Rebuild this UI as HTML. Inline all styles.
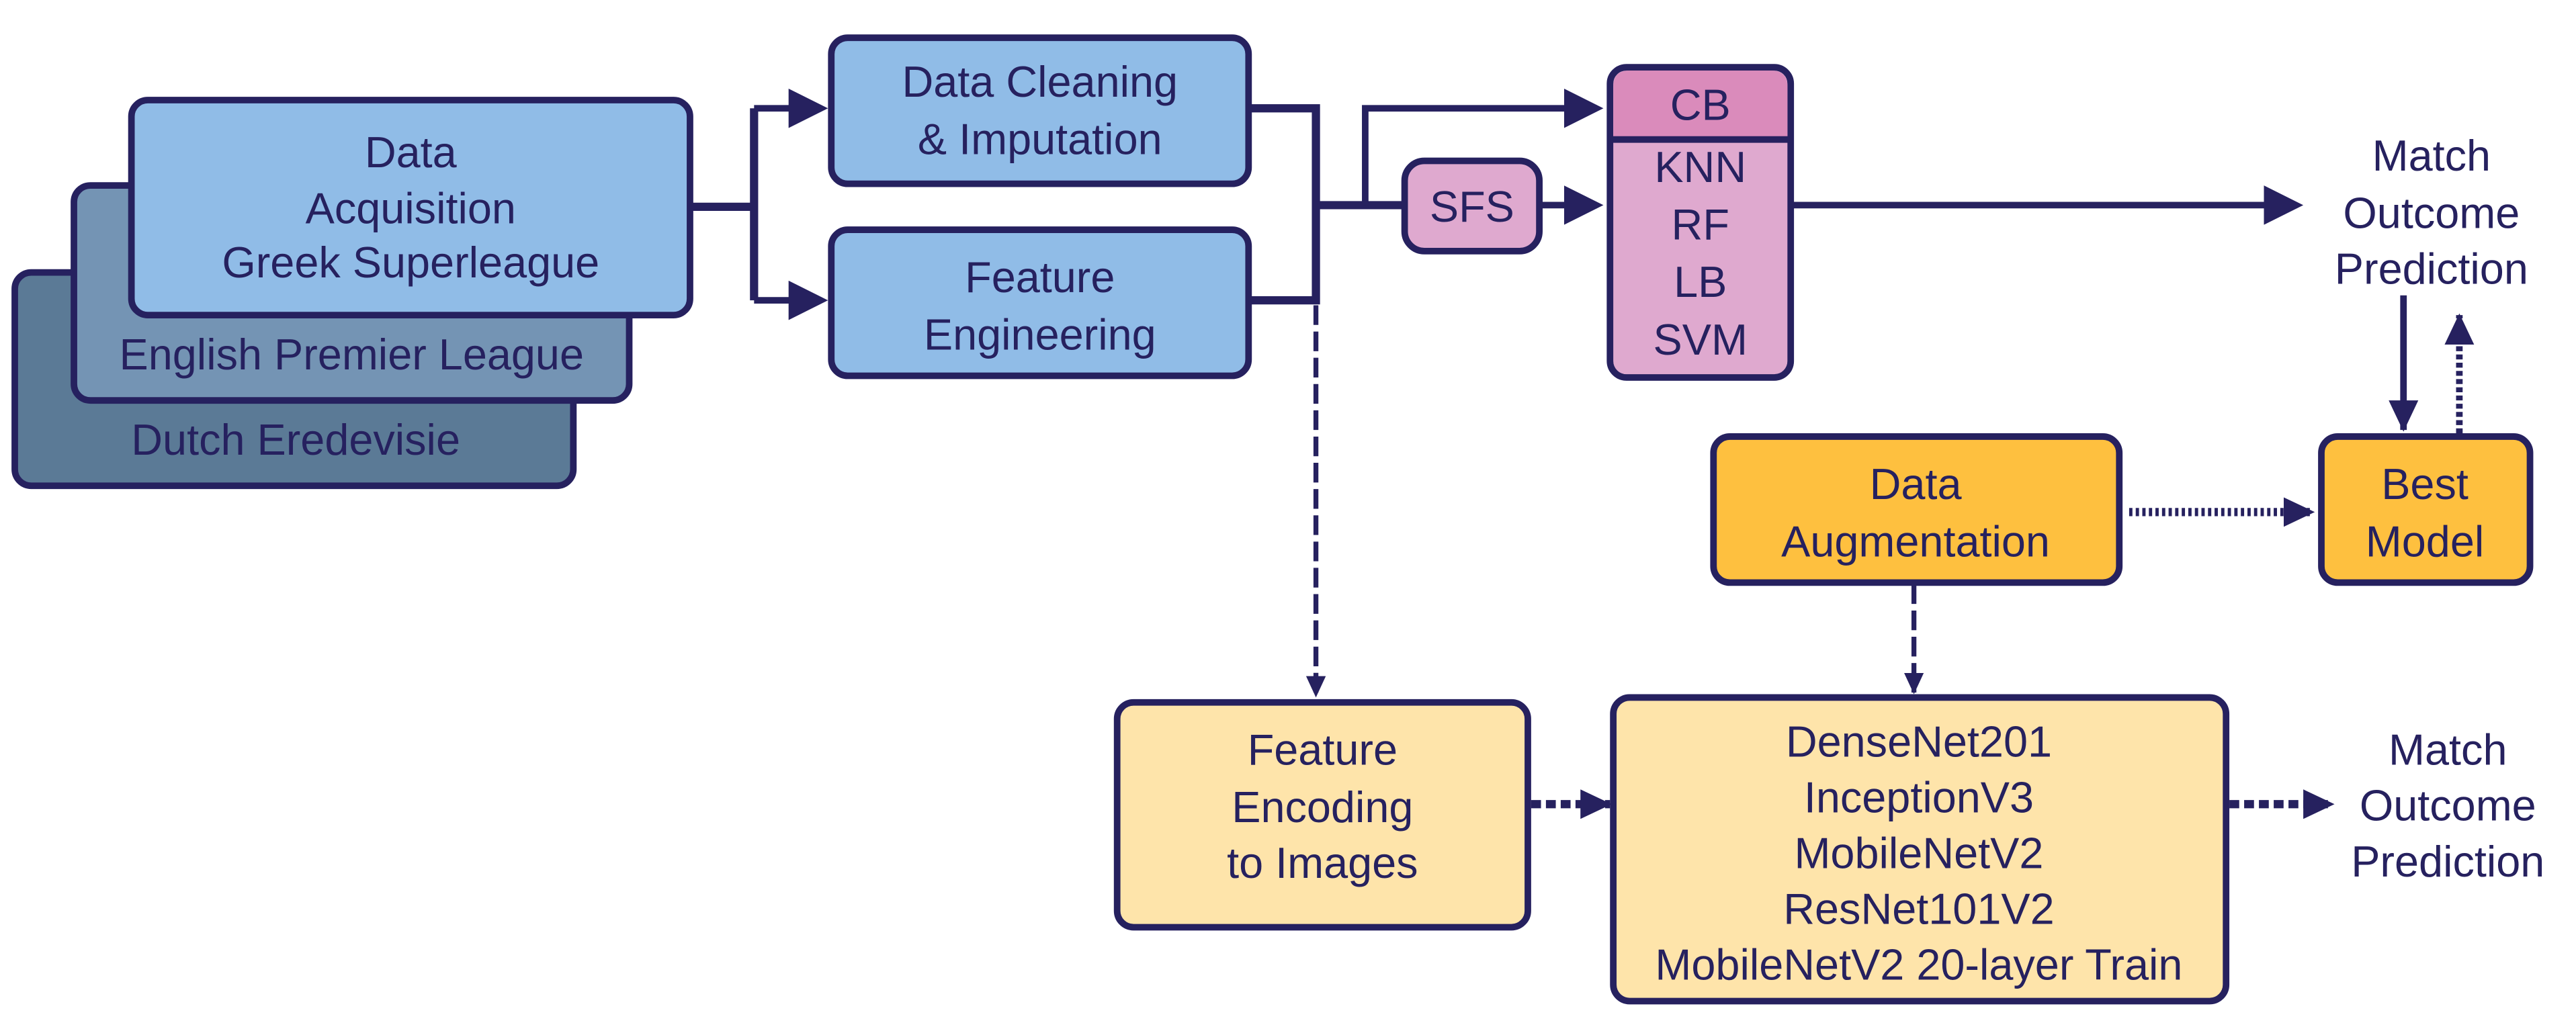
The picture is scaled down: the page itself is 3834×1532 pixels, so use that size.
<!DOCTYPE html>
<html><head><meta charset="utf-8"><style>
html,body{margin:0;padding:0;background:#fff;}
svg{display:block;}
text{font-family:"Liberation Sans",Arial,sans-serif;fill:#26215f;font-size:26.5px;text-anchor:middle;}
</style></head><body>
<svg width="3834" height="1532" viewBox="0 0 1568 627" preserveAspectRatio="none" xmlns="http://www.w3.org/2000/svg">
<defs>
<marker id="a" markerWidth="6" markerHeight="6" refX="5" refY="3" orient="auto" markerUnits="strokeWidth"><path d="M0,0 L6,3 L0,6 z" fill="#26215f"/></marker>
<marker id="b" markerWidth="14" markerHeight="14" refX="12" refY="6" orient="auto" markerUnits="userSpaceOnUse"><path d="M0,0 L13,6 L0,12 z" fill="#26215f"/></marker>
<marker id="c" markerWidth="20" markerHeight="20" refX="18" refY="10" orient="auto" markerUnits="userSpaceOnUse"><path d="M0,1 L19,10 L0,19 z" fill="#26215f"/></marker>
</defs>
<g stroke="#26215f" stroke-width="4">
<rect x="9" y="166" width="340" height="130" rx="10" fill="#5b7a96"/>
<rect x="45" y="113" width="338" height="131" rx="10" fill="#7494b4"/>
<rect x="80" y="61" width="340" height="131" rx="10" fill="#90bce7"/>
<rect x="506" y="23" width="254" height="89" rx="10" fill="#90bce7"/>
<rect x="506" y="140" width="254" height="89" rx="10" fill="#90bce7"/>
<g fill="none" stroke-width="5">
<path d="M420,126 H459 M459,66 V183"/>
<path d="M459,66 H500" marker-end="url(#a)" stroke-width="4"/>
<path d="M459,183 H500" marker-end="url(#a)" stroke-width="4"/>
<path d="M760,66 H801 V183 H760"/>
<path d="M801,125 H855"/>
<path d="M831,125 V66 H972" marker-end="url(#a)" stroke-width="4"/>
<path d="M937,125 H972" marker-end="url(#a)" stroke-width="4"/>
<path d="M1090,125 H1398" marker-end="url(#a)" stroke-width="4"/>
<path d="M1463,180 V262" marker-end="url(#c)" stroke-width="4"/>
<path d="M1497,264 V192" marker-end="url(#c)" stroke-width="4" stroke-dasharray="3,2"/>
<path d="M1296,312 H1408" marker-end="url(#c)" stroke-width="5" stroke-dasharray="2,2"/>
<path d="M801,186 V424" marker-end="url(#b)" stroke-width="3" stroke-dasharray="12,4"/>
<path d="M1165,356 V422" marker-end="url(#b)" stroke-width="3" stroke-dasharray="12,4"/>
<path d="M932,490 H980" marker-end="url(#c)" stroke-width="5" stroke-dasharray="6,3"/>
<path d="M1357,490 H1420" marker-end="url(#c)" stroke-width="5" stroke-dasharray="6,3"/>
</g>
<rect x="855" y="98" width="82" height="55" rx="12" fill="#dfa9cf"/>
<rect x="980" y="41" width="110" height="189" rx="10" fill="#dfa9cf"/>
<path d="M982,84 V53 Q982,43 992,43 H1078 Q1088,43 1088,53 V84 Z" fill="#da8bbb" stroke="none"/>
<line x1="980" y1="85" x2="1090" y2="85"/>
<rect x="1043" y="266" width="247" height="89" rx="10" fill="#fec03f"/>
<rect x="1413" y="266" width="127" height="89" rx="10" fill="#fec03f"/>
<rect x="680" y="428" width="250" height="137" rx="10" fill="#fee4aa"/>
<rect x="982" y="425" width="373" height="185" rx="10" fill="#fee4aa"/>
</g>
<text x="250" y="102">Data</text>
<text x="250" y="136">Acquisition</text>
<text x="250" y="169">Greek Superleague</text>
<text x="214" y="225">English Premier League</text>
<text x="180" y="277">Dutch Eredevisie</text>
<text x="633" y="59">Data Cleaning</text>
<text x="633" y="94">&amp; Imputation</text>
<text x="633" y="178">Feature</text>
<text x="633" y="213">Engineering</text>
<text x="896" y="135">SFS</text>
<text x="1035" y="73">CB</text>
<text x="1035" y="111">KNN</text>
<text x="1035" y="146">RF</text>
<text x="1035" y="181">LB</text>
<text x="1035" y="216">SVM</text>
<text x="1480" y="104">Match</text>
<text x="1480" y="139">Outcome</text>
<text x="1480" y="173">Prediction</text>
<text x="1166" y="304">Data</text>
<text x="1166" y="339">Augmentation</text>
<text x="1476" y="304">Best</text>
<text x="1476" y="339">Model</text>
<text x="805" y="466">Feature</text>
<text x="805" y="501">Encoding</text>
<text x="805" y="535">to Images</text>
<text x="1168" y="461">DenseNet201</text>
<text x="1168" y="495">InceptionV3</text>
<text x="1168" y="529">MobileNetV2</text>
<text x="1168" y="563">ResNet101V2</text>
<text x="1168" y="597">MobileNetV2 20-layer Train</text>
<text x="1490" y="466">Match</text>
<text x="1490" y="500">Outcome</text>
<text x="1490" y="534">Prediction</text>
</svg>
</body></html>
